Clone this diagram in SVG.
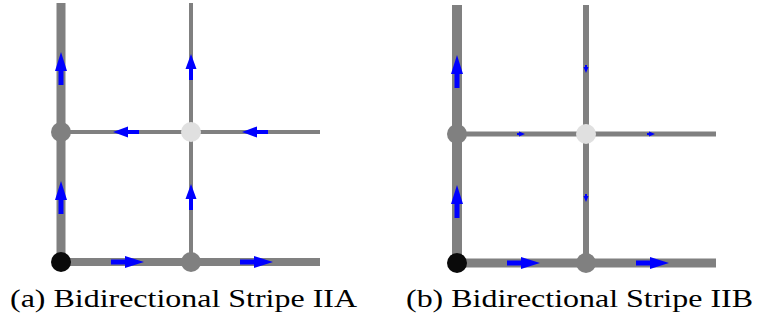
<svg xmlns="http://www.w3.org/2000/svg" width="761" height="323" viewBox="0 0 761 323">
<style>
.ln{stroke:#808080;fill:none}
.ar{fill:#0000ff}
.n-black{fill:#0a0a0a}
.n-gray{fill:#808080}
.n-light{fill:#e0e0e0}
.cap{font-family:"Liberation Serif","DejaVu Serif",serif;font-size:26px;fill:#000}
</style>
<defs>
<polygon id="big" points="0,0 -19,-6 -19,-2.5 -33,-2.5 -33,2.5 -19,2.5 -19,6"/>
<polygon id="mid" points="0,0 -15,-5.5 -15,-2 -26,-2 -26,2 -15,2 -15,5.5"/>
<polygon id="tiny" points="0,0 -6,-2.5 -6,-1 -8,-1 -8,1 -6,1 -6,2.5"/>
</defs>
<g id="connectors">
<!-- panel a -->
<line class="ln" x1="61" y1="3" x2="61" y2="262" stroke-width="9"/>
<line class="ln" x1="191" y1="3" x2="191" y2="262" stroke-width="4"/>
<line class="ln" x1="61" y1="132" x2="320" y2="132" stroke-width="4"/>
<line class="ln" x1="61" y1="262" x2="320" y2="262" stroke-width="8"/>
<!-- panel b -->
<line class="ln" x1="457" y1="5" x2="457" y2="263" stroke-width="10"/>
<line class="ln" x1="586" y1="5" x2="586" y2="263" stroke-width="6"/>
<line class="ln" x1="457" y1="134" x2="716" y2="134" stroke-width="5"/>
<line class="ln" x1="457" y1="263" x2="716" y2="263" stroke-width="9"/>
<!-- arrows panel a -->
<g class="ar">
<use href="#big" transform="translate(61,52) rotate(-90)"/>
<use href="#big" transform="translate(61,181) rotate(-90)"/>
<use href="#mid" transform="translate(191,54) rotate(-90)"/>
<use href="#mid" transform="translate(191,184) rotate(-90)"/>
<use href="#mid" transform="translate(113,132) rotate(180)"/>
<use href="#mid" transform="translate(242,132) rotate(180)"/>
<use href="#big" transform="translate(144,262)"/>
<use href="#big" transform="translate(273,262)"/>
</g>
<!-- arrows panel b -->
<g class="ar">
<use href="#big" transform="translate(457,55) rotate(-90)"/>
<use href="#big" transform="translate(457,185) rotate(-90)"/>
<use href="#tiny" transform="translate(586,73) rotate(90)"/>
<use href="#tiny" transform="translate(586,202) rotate(90)"/>
<use href="#tiny" transform="translate(525,134)"/>
<use href="#tiny" transform="translate(655,134)"/>
<use href="#big" transform="translate(540,263)"/>
<use href="#big" transform="translate(669,263)"/>
</g>
</g>
<g id="a-n00"><circle class="n-black" cx="61" cy="262" r="10"/></g>
<g id="a-n01"><circle class="n-gray" cx="61" cy="132" r="10"/></g>
<g id="a-n10"><circle class="n-gray" cx="191" cy="262" r="10"/></g>
<g id="a-n11"><circle class="n-light" cx="191" cy="132" r="10"/></g>
<g id="b-n00"><circle class="n-black" cx="457" cy="263" r="10"/></g>
<g id="b-n01"><circle class="n-gray" cx="457" cy="134" r="10"/></g>
<g id="b-n10"><circle class="n-gray" cx="586" cy="263" r="10"/></g>
<g id="b-n11"><circle class="n-light" cx="586" cy="134" r="10"/></g>
<text class="cap" x="10" y="307" textLength="347" lengthAdjust="spacingAndGlyphs">(a) Bidirectional Stripe IIA</text>
<text class="cap" x="406" y="307" textLength="347" lengthAdjust="spacingAndGlyphs">(b) Bidirectional Stripe IIB</text>
</svg>
